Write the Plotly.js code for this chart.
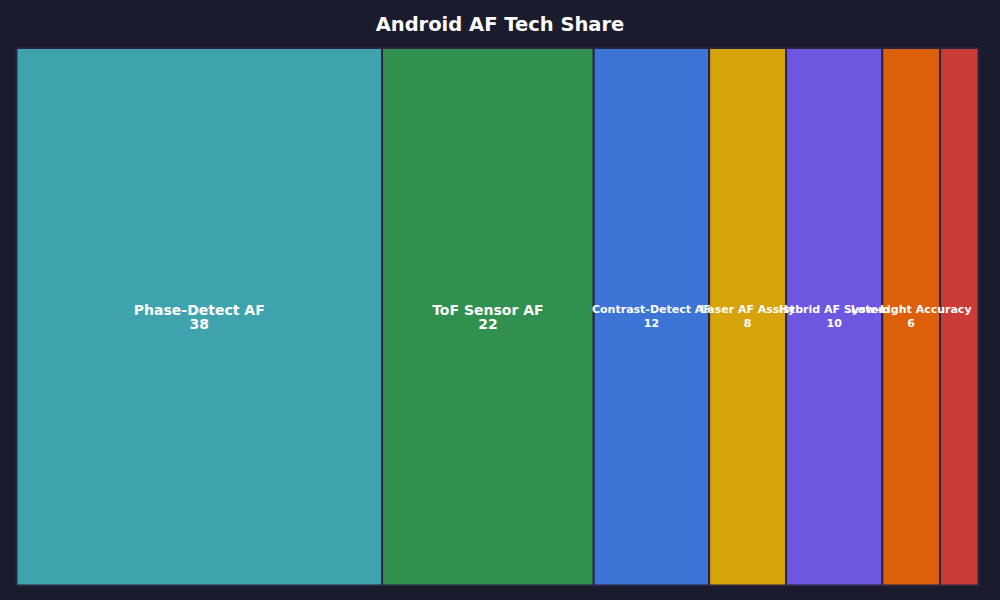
<!DOCTYPE html>
<html>
<head>
<meta charset="utf-8">
<script src="https://cdn.plot.ly/plotly-3.0.1.min.js"></script>
<style>
  html, body { margin: 0; padding: 0; background: #1b1b2e; }
  #chart { width: 1000px; height: 600px; }
</style>
</head>
<body>
<div id="chart"></div>
<script>
// AF technology share among Android phones
var techNames = ["Phase-Detect AF", "ToF Sensor AF", "Contrast-Detect AF", "Laser AF Assist",
                 "Hybrid AF System", "Low-Light Accuracy", "Dual-Pixel AF"];
var techShare = [38, 22, 12, 8, 10, 6, 4];
var techColors = ["#3fa3ae", "#31904f", "#3d75d7", "#d6a30a", "#6d57e0", "#dc5f09", "#cb3c36"];

var parents = techNames.map(function () { return ""; });

// wide tiles get a bigger label; the thinnest tile carries none in the original
var templates = techNames.map(function (n, i) {
  if (techShare[i] < 5) return "";
  if (techShare[i] >= 20) {
    return "<span style='font-size:14px'>%{label}</span><br><span style='font-size:14px'>%{value}</span>";
  }
  return "%{label}<br>%{value}";
});

var labelFont = { family: "DejaVu Sans", size: 11, color: "#ffffff", weight: "bold" };

// tiles only
var tiles = {
  type: "treemap",
  labels: techNames,
  parents: parents,
  values: techShare,
  sort: false,
  texttemplate: techNames.map(function () { return ""; }),
  tiling: { packing: "dice", pad: 0 },
  pathbar: { visible: false },
  marker: {
    colors: techColors,
    line: { color: "#2a2540", width: 2 }
  },
  textfont: labelFont,
  hoverinfo: "label+value"
};

// same layout again, see-through, so every label sits above every tile
var labels = {
  type: "treemap",
  labels: techNames,
  parents: parents,
  values: techShare,
  sort: false,
  texttemplate: templates,
  textposition: "middle center",
  tiling: { packing: "dice", pad: 0 },
  pathbar: { visible: false },
  marker: {
    colors: techNames.map(function () { return "rgba(0,0,0,0)"; }),
    line: { color: "rgba(0,0,0,0)", width: 2 }
  },
  textfont: labelFont,
  hoverinfo: "skip"
};

var layout = {
  width: 1000,
  height: 600,
  paper_bgcolor: "#1b1b2e",
  plot_bgcolor: "#1b1b2e",
  margin: { l: 11, r: 16, t: 26, b: 9 },
  title: {
    text: "Android AF Tech Share",
    x: 0.5,
    y: 0.96,
    yanchor: "middle",
    font: { family: "DejaVu Sans", size: 19.5, color: "#ffffff", weight: "bold" }
  },
  uniformtext: { minsize: 11, mode: "show" }
};

Plotly.newPlot("chart", [tiles, labels], layout, { displayModeBar: false });
</script>
</body>
</html>
